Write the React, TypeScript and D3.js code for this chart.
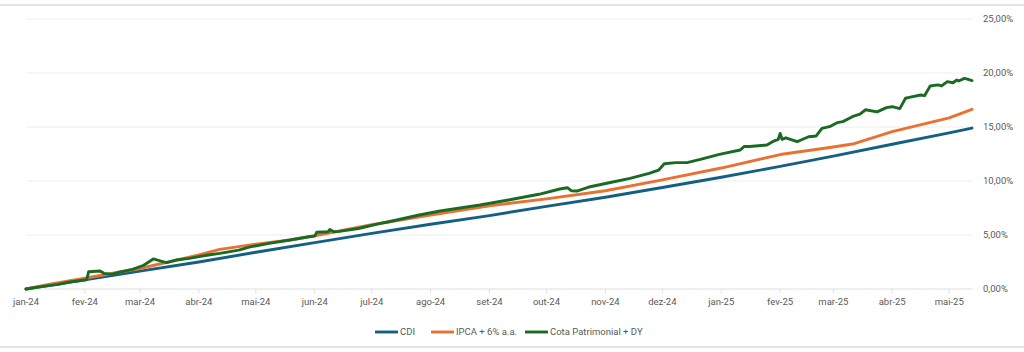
import * as d3 from 'd3';

// values in %
const cdi: [string, number][] = [
  ['2024-01-01', 0], ['2024-02-01', 0.85], ['2024-03-01', 1.65], ['2024-04-01', 2.5],
  ['2024-05-01', 3.4], ['2024-06-01', 4.3], ['2024-07-01', 5.15], ['2024-08-01', 6.0],
  ['2024-09-01', 6.8], ['2024-10-01', 7.65], ['2024-11-01', 8.5], ['2024-12-01', 9.4],
  ['2025-01-01', 10.35], ['2025-02-01', 11.35], ['2025-03-01', 12.3], ['2025-04-01', 13.4],
  ['2025-05-01', 14.45], ['2025-05-13', 14.9],
];

const ipca: [string, number][] = [
  ['2024-01-01', 0], ['2024-01-15', 0.5], ['2024-02-01', 1.0], ['2024-03-01', 1.9],
  ['2024-04-01', 3.15], ['2024-04-12', 3.67], ['2024-05-01', 4.15], ['2024-05-19', 4.54],
  ['2024-06-03', 5.0], ['2024-07-01', 5.95], ['2024-08-01', 6.85], ['2024-09-01', 7.7],
  ['2024-10-01', 8.35], ['2024-11-01', 9.1], ['2024-12-01', 10.1], ['2025-01-01', 11.2],
  ['2025-02-01', 12.45], ['2025-03-01', 13.15], ['2025-03-12', 13.45], ['2025-04-01', 14.57],
  ['2025-05-01', 15.85], ['2025-05-13', 16.64],
];

const cota: [string, number][] = [
  ['2024-01-01', 0], ['2024-01-08', 0.2], ['2024-01-18', 0.43], ['2024-01-24', 0.65],
  ['2024-02-01', 0.83], ['2024-02-02', 0.9], ['2024-02-03', 1.6], ['2024-02-09', 1.67],
  ['2024-02-11', 1.45], ['2024-02-15', 1.36], ['2024-02-19', 1.55], ['2024-02-26', 1.82],
  ['2024-03-03', 2.2], ['2024-03-08', 2.78], ['2024-03-13', 2.53], ['2024-03-15', 2.44],
  ['2024-03-20', 2.68], ['2024-03-27', 2.84], ['2024-04-01', 3.0], ['2024-04-06', 3.15],
  ['2024-04-12', 3.3], ['2024-04-22', 3.6], ['2024-04-28', 3.9], ['2024-05-08', 4.23],
  ['2024-05-19', 4.54], ['2024-05-29', 4.84], ['2024-06-01', 4.9], ['2024-06-02', 5.25],
  ['2024-06-08', 5.3], ['2024-06-09', 5.52], ['2024-06-11', 5.3], ['2024-06-14', 5.34],
  ['2024-06-24', 5.6], ['2024-07-05', 6.05], ['2024-07-10', 6.23], ['2024-07-26', 6.85],
  ['2024-08-06', 7.22], ['2024-08-27', 7.78], ['2024-09-11', 8.24], ['2024-09-27', 8.77],
  ['2024-10-08', 9.26], ['2024-10-12', 9.38], ['2024-10-14', 9.1], ['2024-10-17', 9.07],
  ['2024-10-24', 9.47], ['2024-11-03', 9.84], ['2024-11-14', 10.25], ['2024-11-24', 10.7],
  ['2024-11-29', 11.0], ['2024-12-02', 11.6], ['2024-12-08', 11.7], ['2024-12-14', 11.7],
  ['2024-12-21', 12.0], ['2024-12-31', 12.47], ['2025-01-11', 12.87], ['2025-01-13', 13.2],
  ['2025-01-16', 13.2], ['2025-01-25', 13.33], ['2025-01-28', 13.64], ['2025-01-31', 13.86],
  ['2025-02-01', 14.4], ['2025-02-02', 13.86], ['2025-02-04', 14.0], ['2025-02-10', 13.64],
  ['2025-02-12', 13.8], ['2025-02-16', 14.1], ['2025-02-20', 14.17], ['2025-02-23', 14.88],
  ['2025-02-27', 15.03], ['2025-03-03', 15.4], ['2025-03-06', 15.5], ['2025-03-11', 15.95],
  ['2025-03-15', 16.2], ['2025-03-18', 16.6], ['2025-03-24', 16.4], ['2025-03-29', 16.8],
  ['2025-04-01', 16.88], ['2025-04-05', 16.7], ['2025-04-08', 17.66], ['2025-04-10', 17.75],
  ['2025-04-16', 17.96], ['2025-04-18', 17.9], ['2025-04-21', 18.8], ['2025-04-25', 18.9],
  ['2025-04-27', 18.8], ['2025-04-30', 19.2], ['2025-05-03', 19.1], ['2025-05-05', 19.35],
  ['2025-05-06', 19.26], ['2025-05-09', 19.5], ['2025-05-11', 19.4], ['2025-05-13', 19.3],
];

const monthNames = ['jan', 'fev', 'mar', 'abr', 'mai', 'jun', 'jul', 'ago', 'set', 'out', 'nov', 'dez'];
const yTicks = [0, 5, 10, 15, 20, 25];

const series = [
  { name: 'CDI', data: cdi, color: '#156082' },
  { name: 'IPCA + 6% a.a.', data: ipca, color: '#E97132' },
  { name: 'Cota Patrimonial + DY', data: cota, color: '#196B24' },
];

const W = 1024;
const H = 352;
const font = 'Roboto, "Liberation Sans", Arial, sans-serif';
const parse = d3.utcParse('%Y-%m-%d');

export default function App() {
  const x = d3.scaleUtc()
    .domain([parse('2024-01-01')!, parse('2025-05-13')!])
    .range([26, 972]);
  const y = d3.scaleLinear().domain([0, 25]).range([289, 19]);

  const line = d3.line<[string, number]>()
    .x(d => x(parse(d[0])!))
    .y(d => y(d[1]));

  const months = d3.utcMonth.range(parse('2024-01-01')!, parse('2025-05-02')!);
  const fmtPct = (v: number) => v.toFixed(2).replace('.', ',') + '%';

  // legend layout
  const legendX = [375, 431, 525];

  return (
    <svg width={W} height={H} style={{ position: 'absolute', left: 0, top: 0, background: '#fff' }}
      fontFamily={font}>
      <rect x={-2} y={5} width={W + 4} height={342} fill="#fff" stroke="#e4e4e4" strokeWidth={2} />

      {yTicks.map(t => (
        <g key={t}>
          <line x1={26} x2={972} y1={y(t)} y2={y(t)} stroke={t === 0 ? '#dedede' : '#eeeeee'} strokeWidth={1} />
          <text x={983} y={y(t)} dy="0.35em" fontSize={9.5} fill="#595959">{fmtPct(t)}</text>
        </g>
      ))}

      {months.map(m => (
        <g key={m.toISOString()}>
          <line x1={x(m)} x2={x(m)} y1={y(0)} y2={y(0) + 4} stroke="#dedede" />
          <text x={x(m)} y={305} textAnchor="middle" fontSize={9.5} fill="#595959">
            {monthNames[m.getUTCMonth()] + '-' + String(m.getUTCFullYear()).slice(2)}
          </text>
        </g>
      ))}

      {series.map(s => (
        <path key={s.name} d={line(s.data) || ''} fill="none" stroke={s.color}
          strokeWidth={2.9} strokeLinejoin="round" strokeLinecap="round" />
      ))}

      {series.map((s, i) => (
        <g key={s.name} transform={`translate(${legendX[i]},332)`}>
          <line x1={0} x2={23} y1={0} y2={0} stroke={s.color} strokeWidth={2.9} />
          <text x={25} y={0} dy="0.35em" fontSize={9.5} fill="#595959">{s.name}</text>
        </g>
      ))}
    </svg>
  );
}
